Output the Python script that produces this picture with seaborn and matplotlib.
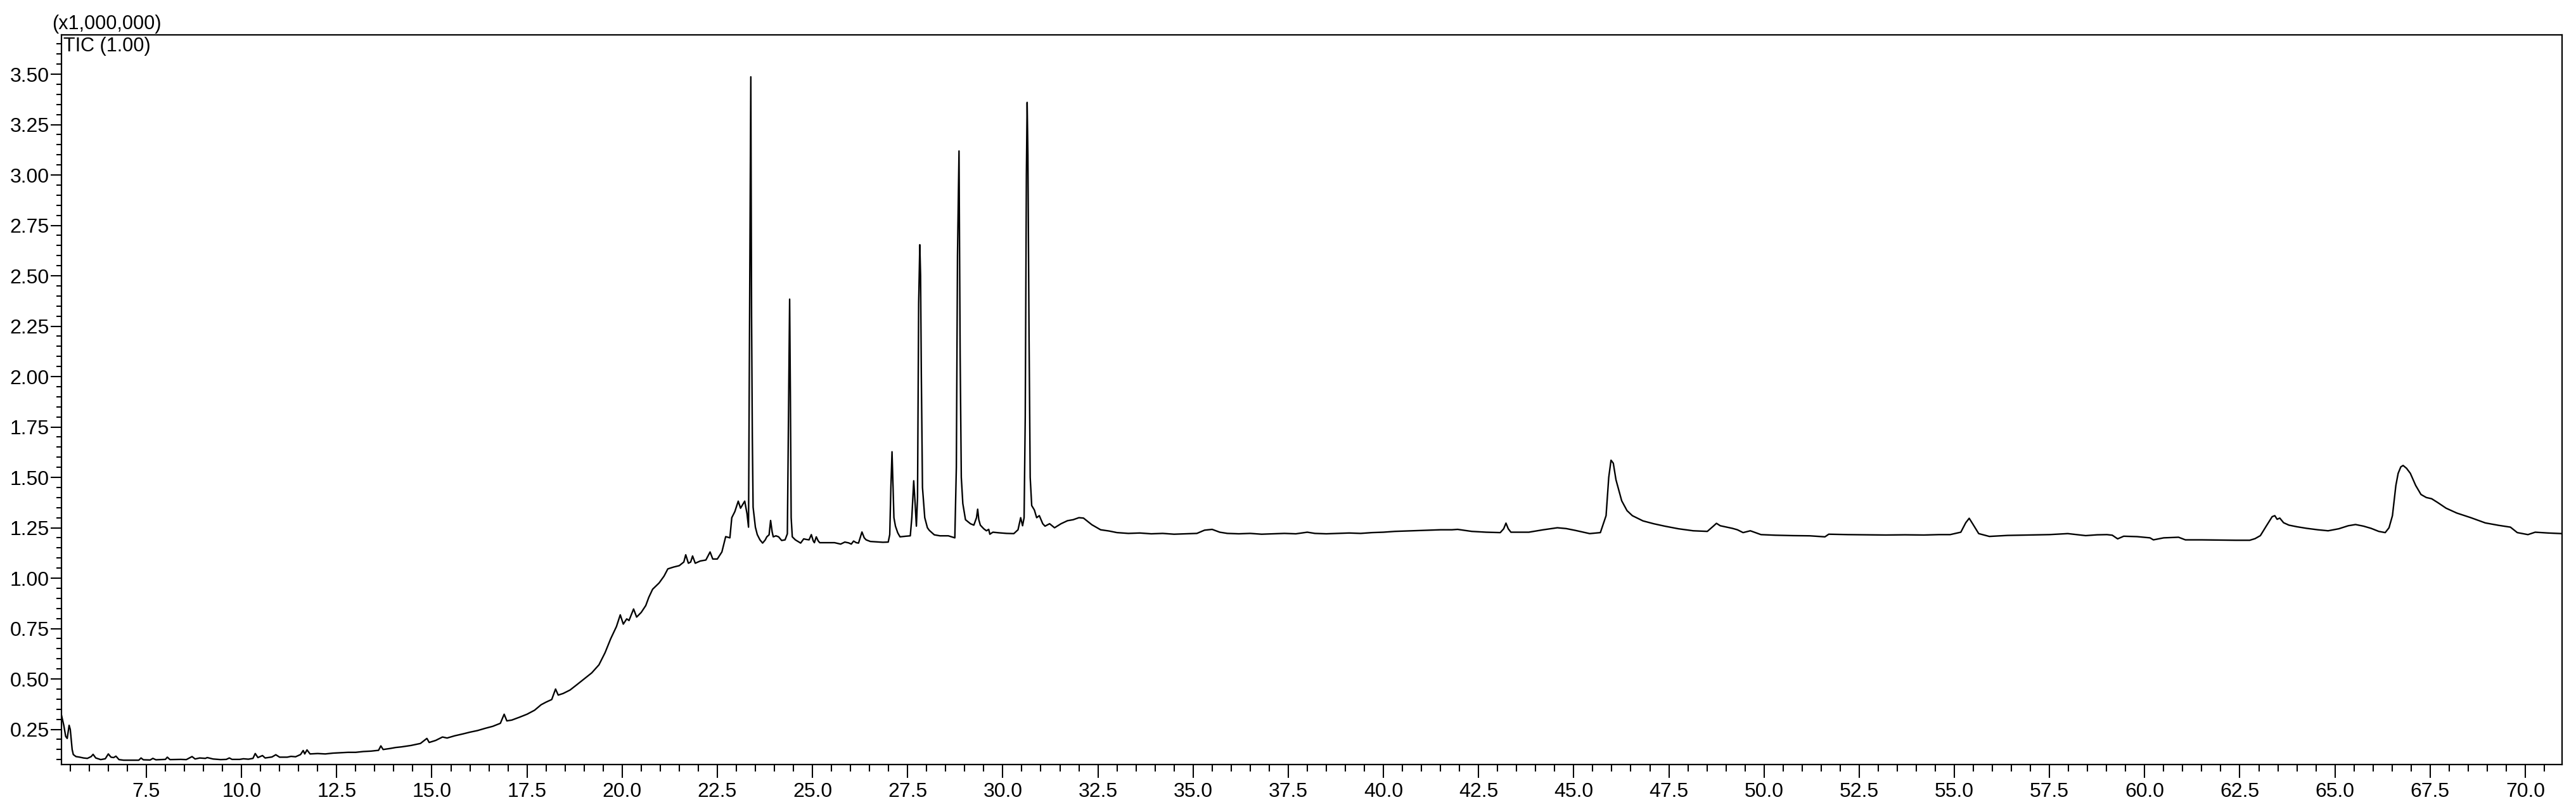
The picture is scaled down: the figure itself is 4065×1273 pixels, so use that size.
import numpy as np
import pandas as pd
import matplotlib
matplotlib.use("Agg")
import matplotlib.pyplot as plt
from matplotlib.ticker import MultipleLocator, FormatStrFormatter
import seaborn as sns

# retention time (min) and TIC intensity (x1,000,000)
time = [
    5.27, 5.33, 5.38, 5.42, 5.47, 5.50, 5.55, 5.58, 5.65, 5.75, 5.85, 5.95, 6.05, 6.10, 6.17,
    6.30, 6.42, 6.50, 6.57, 6.64, 6.70, 6.78, 6.90, 7.10, 7.30, 7.36, 7.42, 7.60, 7.67, 7.75,
    8.00, 8.05, 8.12, 8.40, 8.55, 8.70, 8.78, 8.90, 9.05, 9.10, 9.25, 9.45, 9.60, 9.68, 9.75,
    9.95, 10.05, 10.18, 10.30, 10.36, 10.43, 10.55, 10.62, 10.80, 10.90, 11.00, 11.20, 11.30,
    11.42, 11.55, 11.62, 11.66, 11.72, 11.80, 12.00, 12.20, 12.40, 12.60, 12.80, 13.00, 13.20,
    13.40, 13.60, 13.66, 13.72, 13.90, 14.05, 14.20, 14.45, 14.70, 14.87, 14.93, 15.10, 15.28,
    15.40, 15.60, 15.83, 16.00, 16.20, 16.40, 16.60, 16.80, 16.90, 16.97, 17.10, 17.30, 17.50,
    17.70, 17.87, 18.00, 18.15, 18.25, 18.32, 18.45, 18.63, 18.80, 19.04, 19.20, 19.39, 19.55,
    19.70, 19.85, 19.95, 20.03, 20.12, 20.18, 20.30, 20.38, 20.50, 20.62, 20.70, 20.80, 20.97,
    21.10, 21.20, 21.35, 21.50, 21.62, 21.67, 21.74, 21.80, 21.85, 21.92, 22.05, 22.20, 22.31,
    22.38, 22.50, 22.62, 22.72, 22.83, 22.88, 22.96, 23.05, 23.11, 23.22, 23.28, 23.32, 23.35,
    23.38, 23.40, 23.42, 23.44, 23.50, 23.55, 23.62, 23.69, 23.76, 23.80, 23.86, 23.90, 23.94,
    23.97, 24.04, 24.11, 24.19, 24.28, 24.34, 24.37, 24.40, 24.42, 24.44, 24.47, 24.55, 24.69,
    24.77, 24.84, 24.91, 24.97, 25.02, 25.05, 25.10, 25.15, 25.19, 25.40, 25.58, 25.74, 25.85,
    25.95, 26.02, 26.08, 26.15, 26.21, 26.30, 26.36, 26.41, 26.52, 26.70, 26.85, 26.99, 27.03,
    27.06, 27.09, 27.11, 27.14, 27.18, 27.24, 27.30, 27.45, 27.57, 27.61, 27.66, 27.70, 27.73,
    27.76, 27.79, 27.82, 27.84, 27.86, 27.89, 27.95, 28.02, 28.07, 28.20, 28.35, 28.57, 28.74,
    28.78, 28.81, 28.85, 28.88, 28.91, 28.95, 29.02, 29.15, 29.24, 29.31, 29.34, 29.37, 29.41,
    29.50, 29.57, 29.63, 29.66, 29.74, 29.90, 30.10, 30.29, 30.40, 30.47, 30.52, 30.56, 30.59,
    30.62, 30.64, 30.66, 30.69, 30.72, 30.76, 30.83, 30.89, 30.96, 31.05, 31.11, 31.23, 31.36,
    31.53, 31.70, 31.85, 32.00, 32.12, 32.34, 32.57, 32.79, 33.00, 33.30, 33.60, 33.90, 34.20,
    34.50, 34.80, 35.10, 35.30, 35.50, 35.70, 35.90, 36.20, 36.50, 36.80, 37.10, 37.40, 37.70,
    38.00, 38.20, 38.50, 38.80, 39.10, 39.40, 39.70, 40.00, 40.30, 40.60, 40.90, 41.20, 41.50,
    41.80, 41.95, 42.32, 42.70, 43.07, 43.16, 43.22, 43.28, 43.35, 43.82, 44.20, 44.57, 44.80,
    45.04, 45.42, 45.70, 45.85, 45.92, 45.98, 46.04, 46.11, 46.26, 46.40, 46.54, 46.82, 47.10,
    47.39, 47.75, 48.14, 48.51, 48.65, 48.75, 48.85, 49.17, 49.30, 49.45, 49.64, 49.92, 50.30,
    50.76, 51.20, 51.60, 51.70, 52.20, 52.70, 53.20, 53.70, 54.20, 54.60, 54.89, 55.17, 55.30,
    55.39, 55.48, 55.64, 55.92, 56.40, 56.95, 57.50, 57.98, 58.45, 58.75, 59.01, 59.15, 59.29,
    59.45, 59.80, 60.14, 60.23, 60.50, 60.89, 61.07, 61.50, 62.00, 62.40, 62.76, 62.90, 63.04,
    63.20, 63.35, 63.42, 63.48, 63.55, 63.65, 63.79, 64.00, 64.26, 64.55, 64.82, 65.10, 65.35,
    65.54, 65.75, 65.95, 66.15, 66.32, 66.42, 66.51, 66.60, 66.66, 66.73, 66.79, 66.88, 66.98,
    67.12, 67.26, 67.40, 67.54, 67.70, 67.92, 68.20, 68.57, 68.95, 69.30, 69.61, 69.79, 70.07,
    70.26, 70.60, 70.96,
]
tic = [
    0.320, 0.270, 0.215, 0.205, 0.270, 0.250, 0.150, 0.125, 0.115, 0.112, 0.108, 0.106, 0.115, 0.126, 0.108,
    0.100, 0.104, 0.128, 0.112, 0.110, 0.117, 0.100, 0.097, 0.097, 0.097, 0.108, 0.099, 0.098, 0.106, 0.099,
    0.101, 0.112, 0.100, 0.101, 0.100, 0.115, 0.103, 0.108, 0.106, 0.110, 0.103, 0.100, 0.101, 0.108, 0.101,
    0.101, 0.104, 0.102, 0.106, 0.130, 0.110, 0.120, 0.108, 0.113, 0.124, 0.112, 0.112, 0.116,
    0.114, 0.125, 0.145, 0.128, 0.148, 0.128, 0.130, 0.128, 0.132, 0.134, 0.136, 0.136, 0.140,
    0.142, 0.146, 0.168, 0.150, 0.155, 0.160, 0.163, 0.170, 0.180, 0.205, 0.185, 0.195, 0.212,
    0.207, 0.218, 0.228, 0.236, 0.244, 0.255, 0.265, 0.280, 0.325, 0.292, 0.296, 0.310, 0.325,
    0.345, 0.372, 0.385, 0.398, 0.450, 0.420, 0.428, 0.445, 0.470, 0.506, 0.530, 0.570, 0.630,
    0.700, 0.760, 0.818, 0.772, 0.798, 0.790, 0.847, 0.807, 0.830, 0.864, 0.905, 0.945, 0.976,
    1.010, 1.046, 1.055, 1.062, 1.080, 1.116, 1.074, 1.080, 1.110, 1.074, 1.085, 1.090, 1.130,
    1.095, 1.095, 1.130, 1.206, 1.200, 1.300, 1.330, 1.382, 1.347, 1.382, 1.320, 1.253, 2.400,
    3.487, 2.300, 1.700, 1.352, 1.253, 1.216, 1.190, 1.174, 1.190, 1.205, 1.215, 1.286, 1.230,
    1.205, 1.210, 1.205, 1.187, 1.190, 1.220, 1.800, 2.384, 1.900, 1.300, 1.205, 1.190, 1.174,
    1.195, 1.192, 1.190, 1.216, 1.185, 1.176, 1.205, 1.185, 1.176, 1.176, 1.176, 1.169, 1.179,
    1.175, 1.169, 1.184, 1.176, 1.174, 1.229, 1.200, 1.190, 1.182, 1.180, 1.178, 1.179, 1.216,
    1.450, 1.627, 1.500, 1.300, 1.258, 1.225, 1.205, 1.208, 1.210, 1.300, 1.483, 1.360, 1.258,
    1.400, 2.365, 2.654, 2.500, 2.010, 1.450, 1.300, 1.250, 1.237, 1.215, 1.210, 1.210, 1.200,
    1.550, 2.600, 3.119, 2.100, 1.500, 1.370, 1.290, 1.270, 1.263, 1.300, 1.342, 1.290, 1.263,
    1.245, 1.235, 1.242, 1.218, 1.228, 1.225, 1.222, 1.221, 1.240, 1.300, 1.260, 1.300, 1.800,
    3.000, 3.360, 3.100, 2.200, 1.500, 1.360, 1.338, 1.300, 1.310, 1.270, 1.258, 1.270, 1.250,
    1.270, 1.285, 1.290, 1.300, 1.298, 1.265, 1.240, 1.234, 1.226, 1.222, 1.224, 1.220, 1.222,
    1.218, 1.220, 1.222, 1.238, 1.242, 1.228, 1.222, 1.220, 1.222, 1.218, 1.220, 1.222, 1.220,
    1.228, 1.222, 1.220, 1.222, 1.224, 1.222, 1.226, 1.228, 1.232, 1.234, 1.236, 1.238, 1.240,
    1.240, 1.242, 1.232, 1.228, 1.226, 1.245, 1.273, 1.245, 1.228, 1.228, 1.240, 1.250, 1.246,
    1.237, 1.221, 1.226, 1.310, 1.500, 1.585, 1.570, 1.488, 1.384, 1.335, 1.310, 1.284, 1.270,
    1.258, 1.245, 1.235, 1.232, 1.255, 1.272, 1.260, 1.247, 1.240, 1.226, 1.235, 1.216, 1.213,
    1.211, 1.210, 1.205, 1.218, 1.216, 1.215, 1.214, 1.215, 1.214, 1.216, 1.216, 1.228, 1.275,
    1.297, 1.270, 1.221, 1.207, 1.212, 1.214, 1.216, 1.221, 1.211, 1.215, 1.216, 1.213, 1.195,
    1.208, 1.206, 1.200, 1.190, 1.200, 1.203, 1.190, 1.190, 1.189, 1.188, 1.188, 1.196, 1.211,
    1.260, 1.305, 1.310, 1.292, 1.298, 1.275, 1.263, 1.255, 1.247, 1.240, 1.235, 1.245, 1.260,
    1.266, 1.258, 1.247, 1.232, 1.226, 1.250, 1.310, 1.460, 1.520, 1.552, 1.559, 1.545, 1.520,
    1.460, 1.415, 1.400, 1.394, 1.375, 1.347, 1.323, 1.300, 1.274, 1.262, 1.253, 1.226, 1.216,
    1.228, 1.224, 1.221,
]

x_range = (5.264, 70.966)
y_range = (0.0755, 3.695)

df = pd.DataFrame({"time": time, "tic": tic})

sns.set_style("white")
plt.rcParams["font.family"] = ["Liberation Sans", "DejaVu Sans"]

fig = plt.figure(figsize=(40.66, 12.73), dpi=100)
ax = fig.add_axes([0.02378, 0.05263, 0.97056, 0.90416])

sns.lineplot(data=df, x="time", y="tic", color="black", linewidth=1.7,
             estimator=None, sort=False, ax=ax)

ax.set_xlim(*x_range)
ax.set_ylim(*y_range)
ax.set_xlabel("")
ax.set_ylabel("")

ax.xaxis.set_major_locator(MultipleLocator(2.5))
ax.xaxis.set_minor_locator(MultipleLocator(0.5))
ax.xaxis.set_major_formatter(FormatStrFormatter("%.1f"))
ax.yaxis.set_major_locator(MultipleLocator(0.25))
ax.yaxis.set_minor_locator(MultipleLocator(0.05))
ax.yaxis.set_major_formatter(FormatStrFormatter("%.2f"))

# seaborn's white style hides tick marks, turn them back on
ax.tick_params(which="both", bottom=True, left=True, top=False, right=False)
ax.tick_params(axis="x", which="major", direction="out", length=15, width=1.5,
               labelsize=23, pad=5, color="black", labelcolor="black")
ax.tick_params(axis="x", which="minor", direction="out", length=8, width=1.5, color="black")
ax.tick_params(axis="y", which="major", direction="out", length=12, width=1.5,
               labelsize=23, pad=1.5, color="black", labelcolor="black")
ax.tick_params(axis="y", which="minor", direction="out", length=6, width=1.5, color="black")

for side in ax.spines.values():
    side.set_visible(True)
    side.set_color("black")
    side.set_linewidth(1.6)

ax.text(0.0008, 0.9975, "TIC (1.00)", transform=ax.transAxes, ha="left", va="top",
        fontsize=22, color="black")
fig.text(82 / 4066, (1273 - 53) / 1273, "(x1,000,000)", ha="left", va="bottom",
         fontsize=22, color="black")

fig.savefig("out.png", dpi=100, facecolor="white")
